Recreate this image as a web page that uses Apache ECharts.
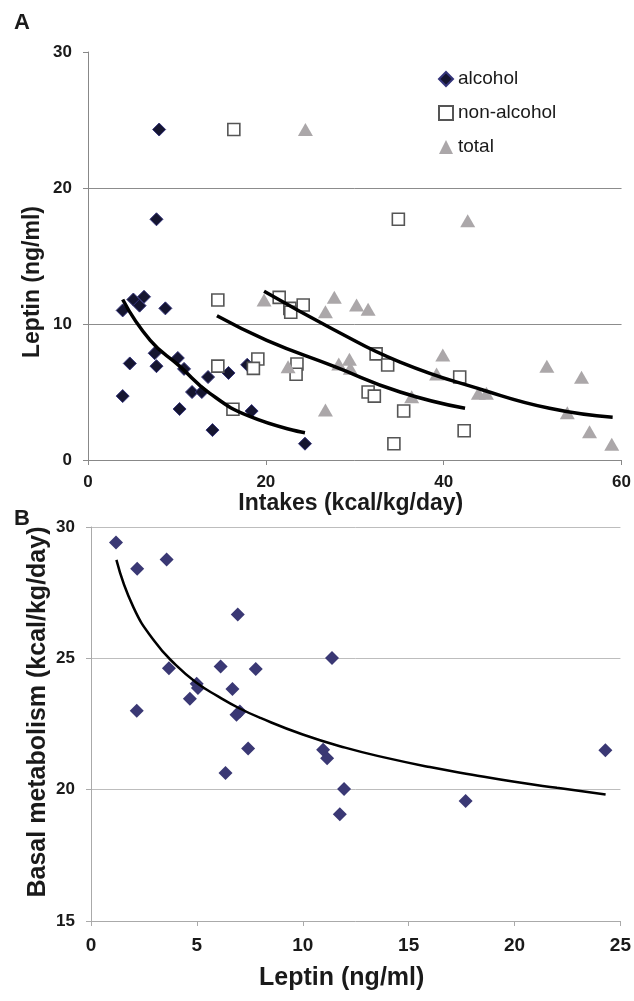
<!DOCTYPE html>
<html>
<head>
<meta charset="utf-8">
<script src="https://cdn.jsdelivr.net/npm/echarts@6/dist/echarts.min.js"></script>
<style>html,body{margin:0;padding:0;background:#fff}#c{width:634px;height:1001px}</style>
</head>
<body>
<div id="c"></div>
<script>
// Panel A: intakes (kcal/kg/day) vs leptin (ng/ml)
const alcoholIntake = [8.0, 7.7, 3.9, 5.1, 5.8, 6.3, 8.7, 4.7, 3.9, 7.5, 7.7, 10.1, 10.8, 10.3, 11.7, 12.8, 13.5, 14.0, 15.8, 17.9, 18.4, 24.4];
const alcoholLeptin = [24.3, 17.7, 11.0, 11.8, 11.35, 12.0, 11.15, 7.1, 4.7, 7.85, 6.9, 7.5, 6.7, 3.75, 5.0, 5.0, 6.1, 2.2, 6.4, 7.0, 3.6, 1.2];
const nonAlcoholIntake = [16.4, 34.9, 14.6, 21.5, 22.7, 22.8, 24.2, 14.6, 19.1, 18.6, 23.5, 23.4, 16.3, 32.4, 33.7, 31.5, 32.2, 35.5, 41.8, 42.3, 34.4];
const nonAlcoholLeptin = [24.3, 17.7, 11.76, 11.96, 11.15, 10.86, 11.4, 6.9, 7.43, 6.74, 7.06, 6.3, 3.73, 7.8, 6.99, 5.0, 4.7, 3.6, 6.1, 2.15, 1.2];
const totalIntake = [24.45, 42.7, 19.8, 27.7, 26.7, 30.2, 31.5, 22.5, 28.2, 29.4, 29.5, 26.7, 39.9, 39.2, 36.4, 43.9, 44.8, 51.6, 55.5, 53.9, 56.4, 58.9];
const totalLeptin = [24.3, 17.6, 11.76, 11.96, 10.9, 11.4, 11.08, 6.86, 7.06, 7.4, 6.74, 3.68, 7.72, 6.32, 4.65, 4.9, 4.9, 6.9, 6.08, 3.48, 2.08, 1.15];
// Trend curves
const alcoholTrendX = [3.9, 7.0, 10.3, 13.7, 18.2, 24.4];
const alcoholTrendY = [11.8, 8.8, 6.9, 4.9, 3.2, 2.0];
const nonAlcoholTrendX = [14.5, 20.1, 27.6, 35.1, 42.4];
const nonAlcoholTrendY = [10.6, 8.8, 6.9, 5.0, 3.8];
const totalTrendX = [19.8, 27.6, 35.1, 44.4, 51.9, 59.0];
const totalTrendY = [12.4, 9.6, 7.2, 5.15, 3.8, 3.14];
const xTicksA = [0, 20, 40, 60];
const yTicksA = [0, 10, 20, 30];

// Panel B: leptin vs basal metabolism
const leptinB = [1.18, 2.18, 3.57, 6.93, 3.68, 6.12, 7.78, 4.99, 5.05, 6.68, 4.67, 2.16, 6.87, 7.03, 7.42, 6.35, 11.38, 10.96, 11.15, 11.95, 11.75, 17.69, 24.29];
const basalB = [29.41, 28.41, 28.76, 26.67, 24.62, 24.69, 24.59, 24.03, 23.87, 23.83, 23.46, 23.0, 22.85, 22.98, 21.57, 20.63, 25.01, 21.52, 21.2, 20.03, 19.06, 19.57, 21.5];
const trendBX = [1.2, 2, 3, 4, 5, 6, 7, 8, 10, 12, 14, 16, 18, 20, 22, 24.3];
const trendBY = [28.75, 26.95, 25.65, 24.75, 24.06, 23.55, 23.1, 22.73, 22.1, 21.6, 21.2, 20.86, 20.57, 20.3, 20.07, 19.82];
const xTicksB = [0, 5, 10, 15, 20, 25];
const yTicksB = [15, 20, 25, 30];

const zip = (a, b) => a.map((v, i) => [v, b[i]]);
const FONT = 'Liberation Sans, Arial, sans-serif';
const TXT = '#1a1a1a';

const chart = echarts.init(document.getElementById('c'), null, {renderer: 'canvas'});
chart.setOption({
  animation: false,
  backgroundColor: '#fff',
  title: [
    {text: 'A', left: 9, top: 7, textStyle: {fontFamily: FONT, fontWeight: 'bold', fontSize: 22, color: TXT}},
    {text: 'B', left: 9, top: 503, textStyle: {fontFamily: FONT, fontWeight: 'bold', fontSize: 22, color: TXT}}
  ],
  legend: {
    orient: 'vertical', left: 433, top: 63, itemWidth: 14, itemHeight: 14, itemGap: 12,
    textStyle: {fontFamily: FONT, fontSize: 19, color: TXT, lineHeight: 22},
    data: [
      {name: 'alcohol', icon: 'diamond'},
      {name: 'non-alcohol', icon: 'rect'},
      {name: 'total', icon: 'triangle'}
    ]
  },
  grid: [
    {left: 88, right: 11, top: 52, height: 408},
    {left: 91, right: 12, top: 527, height: 394}
  ],
  xAxis: [
    {
      gridIndex: 0, type: 'value', min: xTicksA[0], max: xTicksA[xTicksA.length - 1], interval: 20,
      name: 'Intakes (kcal/kg/day)', nameLocation: 'middle', nameGap: 29,
      nameTextStyle: {fontFamily: FONT, fontWeight: 'bold', fontSize: 23, color: TXT, padding: [0, 8, 0, 0]},
      axisLine: {lineStyle: {color: '#888', width: 1}},
      axisTick: {show: true, length: 5, inside: false, lineStyle: {color: '#888'}},
      axisLabel: {fontFamily: FONT, fontWeight: 'bold', fontSize: 17, color: TXT, margin: 14},
      splitLine: {show: false}
    },
    {
      gridIndex: 1, type: 'value', min: xTicksB[0], max: xTicksB[xTicksB.length - 1], interval: 5,
      name: 'Leptin (ng/ml)', nameLocation: 'middle', nameGap: 45,
      nameTextStyle: {fontFamily: FONT, fontWeight: 'bold', fontSize: 25, color: TXT, padding: [0, 28, 0, 0]},
      axisLine: {lineStyle: {color: '#aaa', width: 1}},
      axisTick: {show: true, length: 5, lineStyle: {color: '#aaa'}},
      axisLabel: {fontFamily: FONT, fontWeight: 'bold', fontSize: 19, color: TXT, margin: 15},
      splitLine: {show: false}
    }
  ],
  yAxis: [
    {
      gridIndex: 0, type: 'value', min: yTicksA[0], max: yTicksA[yTicksA.length - 1], interval: 10,
      name: 'Leptin (ng/ml)', nameLocation: 'middle', nameGap: 44, nameMoveOverlap: false,
      nameTextStyle: {fontFamily: FONT, fontWeight: 'bold', fontSize: 23, color: TXT, padding: [0, 52, 0, 0]},
      axisLine: {show: true, lineStyle: {color: '#888', width: 1}},
      axisTick: {show: true, length: 5, lineStyle: {color: '#888'}},
      axisLabel: {fontFamily: FONT, fontWeight: 'bold', fontSize: 17, color: TXT, margin: 16},
      splitLine: {show: true, showMinLine: false, showMaxLine: false, lineStyle: {color: '#8c8c8c', width: 1}}
    },
    {
      gridIndex: 1, type: 'value', min: yTicksB[0], max: yTicksB[yTicksB.length - 1], interval: 5,
      name: 'Basal metabolism (kcal/kg/day)', nameLocation: 'middle', nameGap: 40, nameMoveOverlap: false,
      nameTextStyle: {fontFamily: FONT, fontWeight: 'bold', fontSize: 25, color: TXT, padding: [0, 0, 0, 24]},
      axisLine: {show: true, lineStyle: {color: '#aaa', width: 1}},
      axisTick: {show: true, length: 5, lineStyle: {color: '#aaa'}},
      axisLabel: {fontFamily: FONT, fontWeight: 'bold', fontSize: 17, color: TXT, margin: 16},
      splitLine: {show: true, showMinLine: false, lineStyle: {color: '#bdbdbd', width: 1}}
    }
  ],
  series: [
    {
      name: 'alcohol', type: 'scatter', xAxisIndex: 0, yAxisIndex: 0, symbol: 'diamond', symbolSize: 13,
      itemStyle: {color: '#151530', borderColor: '#34347a', borderWidth: 1, opacity: 1},
      data: zip(alcoholIntake, alcoholLeptin), z: 3
    },
    {
      name: 'non-alcohol', type: 'scatter', xAxisIndex: 0, yAxisIndex: 0, symbol: 'rect', symbolSize: 12,
      itemStyle: {color: '#ffffff', borderColor: '#555555', borderWidth: 1.6, opacity: 1},
      data: zip(nonAlcoholIntake, nonAlcoholLeptin), z: 3
    },
    {
      name: 'total', type: 'scatter', xAxisIndex: 0, yAxisIndex: 0, symbol: 'triangle', symbolSize: [15, 13],
      itemStyle: {color: '#aba7a9', opacity: 1},
      data: zip(totalIntake, totalLeptin), z: 3
    },
    {
      name: 'alcohol trend', type: 'line', xAxisIndex: 0, yAxisIndex: 0, smooth: true, showSymbol: false, symbol: 'none',
      lineStyle: {color: '#000', width: 3.5}, data: zip(alcoholTrendX, alcoholTrendY), z: 5, silent: true
    },
    {
      name: 'non-alcohol trend', type: 'line', xAxisIndex: 0, yAxisIndex: 0, smooth: true, showSymbol: false, symbol: 'none',
      lineStyle: {color: '#000', width: 3.5}, data: zip(nonAlcoholTrendX, nonAlcoholTrendY), z: 5, silent: true
    },
    {
      name: 'total trend', type: 'line', xAxisIndex: 0, yAxisIndex: 0, smooth: true, showSymbol: false, symbol: 'none',
      lineStyle: {color: '#000', width: 3.5}, data: zip(totalTrendX, totalTrendY), z: 5, silent: true
    },
    {
      name: 'basal', type: 'scatter', xAxisIndex: 1, yAxisIndex: 1, symbol: 'diamond', symbolSize: 14,
      itemStyle: {color: '#3a3874', opacity: 1}, data: zip(leptinB, basalB), z: 3
    },
    {
      name: 'basal trend', type: 'line', xAxisIndex: 1, yAxisIndex: 1, smooth: true, showSymbol: false, symbol: 'none',
      lineStyle: {color: '#000', width: 2.5}, data: zip(trendBX, trendBY), z: 5, silent: true
    }
  ]
});
</script>
</body>
</html>
